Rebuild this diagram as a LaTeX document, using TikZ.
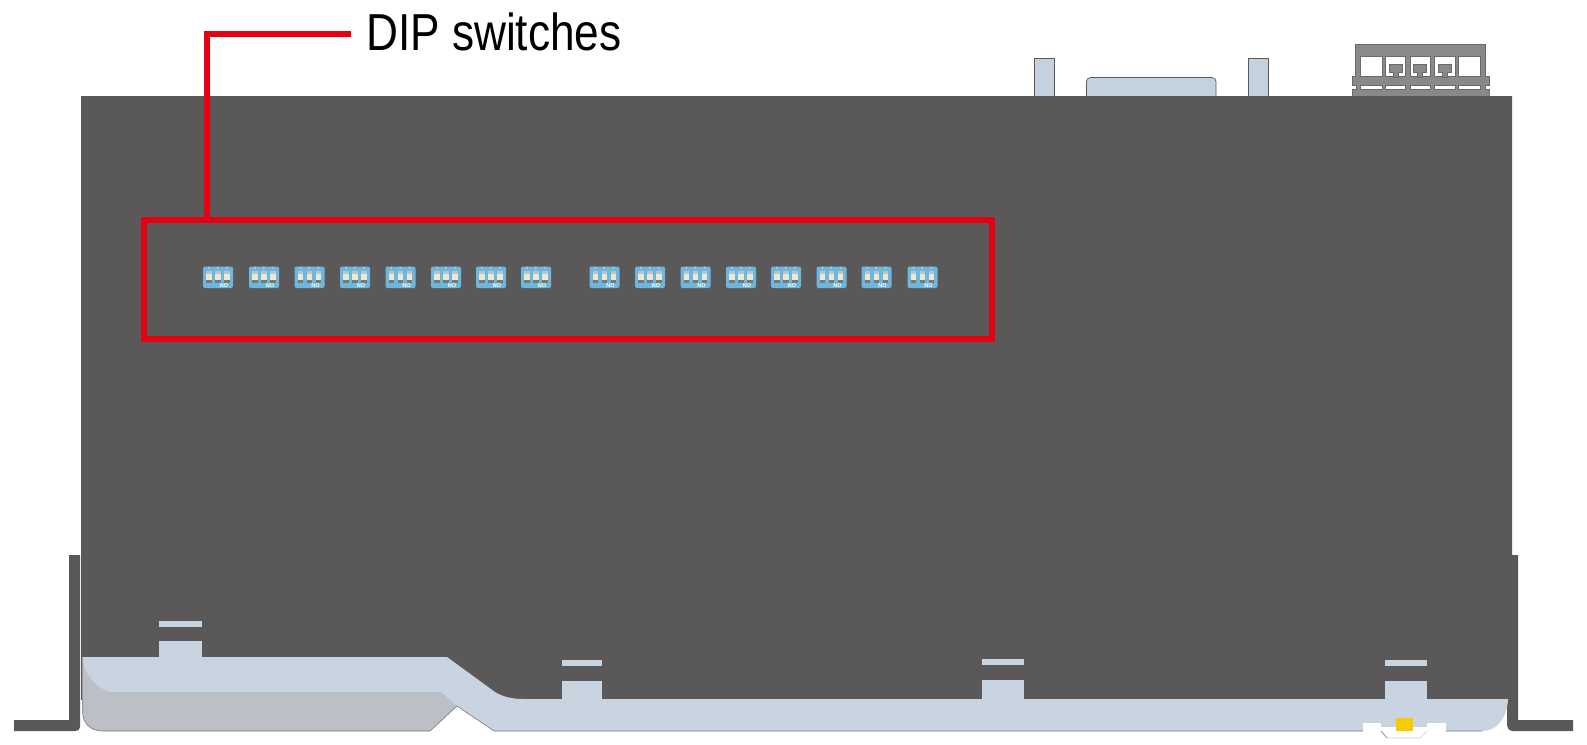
\documentclass[tikz,border=0pt]{standalone}
\usepackage{fontspec}
\setmainfont{Liberation Sans}
\newfontfamily\labelfont[FakeStretch=0.85]{Liberation Sans}
\definecolor{bodydark}{HTML}{5A5859}
\definecolor{steelblue}{HTML}{C8D5E0}
\definecolor{connblue}{HTML}{C4D1DF}
\definecolor{shadegrey}{HTML}{BDBFC7}
\definecolor{markred}{HTML}{E60012}
\definecolor{ledyellow}{HTML}{F8CB00}
\definecolor{dipblue}{HTML}{6EB7DC}
\definecolor{termgrey}{HTML}{898989}
\definecolor{cream}{HTML}{F1E7CE}
\definecolor{sliderlight}{HTML}{B4C6CE}
\definecolor{sliderdark}{HTML}{74797C}
\tikzset{
  x=1pt,y=-1pt,
  leader/.style={draw=markred,line width=6pt,line join=miter},
  darkfill/.style={fill=bodydark,draw=none},
  tabfill/.style={fill=steelblue,draw=none},
  connpart/.style={fill=connblue,draw=bodydark,line width=0.7pt},
  termline/.style={draw=bodydark!90,line width=0.8pt},
  tiny/.style={inner sep=0pt,text=white,font=\fontsize{3.4}{3.4}\selectfont},
  noflag/.style={inner sep=0pt,text=white,font=\fontsize{5.5}{5.5}\selectfont\bfseries},
}
\begin{document}
\begin{tikzpicture}
\useasboundingbox (0,0) rectangle (1587,744);
\fill[white] (0,0) rectangle (1587,744);
% rear connectors
\path[connpart] (1034,97) -- (1034,58) -- (1054,58) -- (1054,97) -- cycle;
\path[connpart] (1248,97) -- (1248,58) -- (1268,58) -- (1268,97) -- cycle;
\path[connpart,rounded corners=4pt] (1086.5,100) -- (1086.5,77.5) -- (1216,77.5) -- (1216,100);
% terminal block
\path[fill=termgrey,termline] (1352,97) -- (1352,89.3) -- (1356,89.3) -- (1356,85.3) -- (1352,85.3) -- (1352,76.3) -- (1355.7,76.3) -- (1355.7,44.5) -- (1485,44.5) -- (1485,76.3) -- (1489,76.3) -- (1489,85.3) -- (1485,85.3) -- (1485,89.3) -- (1489,89.3) -- (1489,97) -- cycle;
\foreach \a/\b in {1360.7/1382.3,1458.3/1480}{
  \path[fill=white,termline] (\a,56.7) rectangle (\b,76.7);
}
\foreach \a/\b in {1385.7/1405.7,1410/1430,1434.7/1455}{
  \path[fill=white,termline] (\a,56.7) rectangle (\b,76.7);
  \path[fill=termgrey,termline] ({\a+3.6},72) -- ({\a+3.6},64) -- ({\b-3.2},64) -- ({\b-3.2},72) -- ({\b-7.2},72) -- ({\b-7.2},76.9) -- ({\a+7.8},76.9) -- ({\a+7.8},72) -- cycle;
}
\foreach \a/\b in {1360.7/1382.3,1385.7/1405.7,1410/1430,1434.7/1455,1458.3/1480}{
  \path[fill=white,termline] (\a,85.5) rectangle (\b,89.2);
}
% main body and flanges
\path[darkfill] (81,96) -- (1512,96) -- (1512,555) -- (1518,555) -- (1518,720) -- (1573,720) -- (1573,731) -- (1513,731) .. controls (1509,731) and (1507,728) .. (1507,724) -- (1507,699) -- (84,699) -- (84,700) -- (81,700) -- cycle;
\path[darkfill] (69,555) -- (80,555) -- (80,727) .. controls (80,730) and (78,731) .. (75,731) -- (14,731) -- (14,720) -- (69,720) -- cycle;
% steel base plate
\path[fill=steelblue,draw=none] (82.7,657) -- (447,657) -- (495,692) .. controls (503,697) and (513,699) .. (523,699) -- (1508,699) .. controls (1507,718) and (1497,731) .. (1482,731) -- (494,731) -- (457,706) -- (430,731) -- (103,731) .. controls (90,731) and (82.7,723) .. (82.7,712) -- cycle;
\path[fill=shadegrey,draw=none] (82.7,657) .. controls (84,675) and (96,688) .. (110,692) -- (441,692) -- (457,706) -- (430,731) -- (103,731) .. controls (90,731) and (82.7,723) .. (82.7,712) -- cycle;
\draw[bodydark!80,line width=0.6pt] (82.7,700) -- (82.7,712) .. controls (82.7,723) and (90,731) .. (103,731) -- (430,731) -- (457,706) -- (494,731) -- (1482,731);
% tabs and bars
\foreach \a/\b/\t/\e/\p/\q in {159/202/641/658/621/626.5,562/602/681/700/660/665.5,982/1024/680/700/659/665,1385/1427/681/700/660/665.5}{
  \path[tabfill] (\a,\t) rectangle (\b,\e);
  \path[tabfill] (\a,\p) rectangle (\b,\q);
}
% right-hand slot with LED
\path[fill=white,draw=none] (1363,723) rectangle (1381,731.5);
\path[fill=white,draw=none] (1427,723) rectangle (1446,731.5);
\path[fill=white,draw=none] (1380,727) rectangle (1428,732) ;
\path[fill=white,draw=none] (1381,731) -- (1387,738) -- (1420,738) -- (1427,731) -- cycle;
\draw[bodydark!80,line width=0.6pt] (1381,731) -- (1387,738);
\draw[bodydark!30,line width=0.6pt] (1387,738) -- (1420,738) -- (1427,731);
\path[fill=ledyellow,draw=none] (1396,718) rectangle (1413,731);
% DIP switches
\foreach \x/\ta/\tb/\tc in {203/1/2/3,249/3/2/1,294.5/1/2/3,340/3/2/1,385.5/1/2/3,431/3/2/1,476/1/2/3,521/3/2/1,589.5/1/2/3,635/3/2/1,680.5/1/2/3,726/3/2/1,771/1/2/3,816.5/3/2/1,861.5/1/2/3,907.5/3/2/1}{
  \path[fill=dipblue,draw=none,rounded corners=2pt] (\x,266.5) rectangle ({\x+30},288);
  \foreach \o/\n in {3.2/\ta,12/\tb,21.2/\tc}{
    \path[fill=sliderlight,draw=none] ({\x+\o},271) rectangle ({\x+\o+5.6},273.5);
    \path[fill=cream,draw=none] ({\x+\o},273.5) rectangle ({\x+\o+5.6},279.8);
    \path[fill=sliderdark,draw=none] ({\x+\o},279.8) rectangle ({\x+\o+5.6},283.3);
    \node[tiny] at ({\x+\o+2.8},268.8) {\n};
  }
  \node[noflag] at ({\x+21},285.5) {NO};
}
% marker box, leader and label
\node[leader,rectangle,minimum width=848pt,minimum height=119pt,inner sep=0pt,outer sep=0pt,anchor=north west] (dipbox) at (144,220) {};
\coordinate (leadend) at (351,33.5);
\coordinate (leadfoot) at (206.5,220);
\draw[leader] (leadend) -- (206.5,33.5) -- (leadfoot);
\node[anchor=base west,inner sep=0pt,text=black,font=\labelfont\fontsize{52}{52}\selectfont] (diplabel) at (366,50) {DIP switches};
\end{tikzpicture}
\end{document}
